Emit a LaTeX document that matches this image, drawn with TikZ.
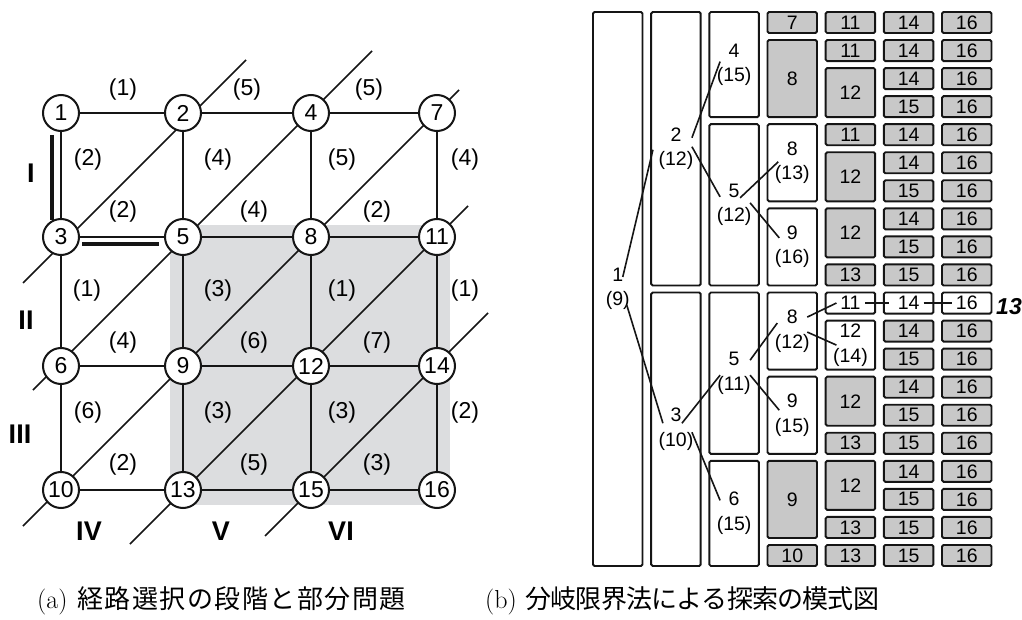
\documentclass[tikz,border=0pt]{standalone}
\usepackage{fontspec}
\newfontfamily\arialf{Liberation Sans}
\newfontfamily\jpf{Noto Sans CJK JP}
\usetikzlibrary{calc}
\definecolor{areagray}{HTML}{DCDDDF}
\definecolor{boxgray}{HTML}{C8C8C8}
\definecolor{ink}{HTML}{151515}
\pgfdeclarelayer{bg}
\pgfsetlayers{bg,main}
\newlength\capcw
\def\spreadchars#1{\ifx#1\relax\else\makebox[\capcw][c]{#1}\expandafter\spreadchars\fi}
\newcommand{\mkbox}[6]{%
  \pgfmathsetmacro\mbX{617.75+58.17*#2}%
  \pgfmathsetmacro\mbH{28.05*(#4-#3+1)-7}%
  \pgfmathsetmacro\mbY{12+28.05*#3+\mbH/2}%
  \node[#5, minimum height=\mbH pt] (#1) at (\mbX,\mbY) {#6};%
}
\tikzset{
  cnode/.style={circle, draw=ink, line width=2pt, fill=white, minimum size=36pt, inner sep=0pt, font=\arialf\fontsize{23}{26}\selectfont},
  gedge/.style={draw=ink, line width=2.1pt},
  diagl/.style={draw=ink, line width=1.6pt},
  thickbar/.style={draw=ink, line width=4pt},
  elab/.style={font=\arialf\fontsize{23}{26}\selectfont, inner sep=0pt},
  stagelab/.style={font=\arialf\bfseries\fontsize{27}{30}\selectfont, inner sep=0pt},
  wbox/.style={draw=ink, line width=1.9pt, fill=white, rounded corners=1.5pt, minimum width=49.5pt, inner sep=0pt, align=center, font=\arialf\fontsize{19.5}{24.5}\selectfont},
  gbox/.style={wbox, fill=boxgray},
  tline/.style={draw=ink, line width=1.6pt},
  caplab/.style={anchor=base west, inner sep=0pt, font=\fontsize{26}{30}\selectfont},
}
\begin{document}
\begin{tikzpicture}[x=1pt,y=-1pt]
\useasboundingbox (0,0) rectangle (1022,620);
% ---------- (a) grid nodes ----------
\node[cnode] (c1) at (61,113) {1};
\node[cnode] (c2) at (183,113) {2};
\node[cnode] (c4) at (311,113) {4};
\node[cnode] (c7) at (437,113) {7};
\node[cnode] (c3) at (61,237) {3};
\node[cnode] (c5) at (183,237) {5};
\node[cnode] (c8) at (311,237) {8};
\node[cnode] (c11) at (437,237) {11};
\node[cnode] (c6) at (61,366) {6};
\node[cnode] (c9) at (183,366) {9};
\node[cnode] (c12) at (311,366) {12};
\node[cnode] (c14) at (437,366) {14};
\node[cnode] (c10) at (61,490) {10};
\node[cnode] (c13) at (183,490) {13};
\node[cnode] (c15) at (311,490) {15};
\node[cnode] (c16) at (437,490) {16};
\begin{pgfonlayer}{bg}
  \fill[areagray] (170,225) rectangle (450,505);
  \coordinate (d1a) at (23,283);  \coordinate (d1b) at (246,60);
  \coordinate (d2a) at (33,390);  \coordinate (d2b) at (372,51);
  \coordinate (d3a) at (23,526);  \coordinate (d3b) at (459,90);
  \coordinate (d4a) at (130,544); \coordinate (d4b) at (468,206);
  \coordinate (d5a) at (265,536); \coordinate (d5b) at (488,313);
  \draw[diagl] (d1a) -- (d1b);
  \draw[diagl] (d2a) -- (d2b);
  \draw[diagl] (d3a) -- (d3b);
  \draw[diagl] (d4a) -- (d4b);
  \draw[diagl] (d5a) -- (d5b);
  \draw[gedge] (c1) -- (c2); \draw[gedge] (c2) -- (c4); \draw[gedge] (c4) -- (c7);
  \draw[gedge] (c3) -- (c5); \draw[gedge] (c5) -- (c8); \draw[gedge] (c8) -- (c11);
  \draw[gedge] (c6) -- (c9); \draw[gedge] (c9) -- (c12); \draw[gedge] (c12) -- (c14);
  \draw[gedge] (c10) -- (c13); \draw[gedge] (c13) -- (c15); \draw[gedge] (c15) -- (c16);
  \draw[gedge] (c1) -- (c3); \draw[gedge] (c3) -- (c6); \draw[gedge] (c6) -- (c10);
  \draw[gedge] (c2) -- (c5); \draw[gedge] (c5) -- (c9); \draw[gedge] (c9) -- (c13);
  \draw[gedge] (c4) -- (c8); \draw[gedge] (c8) -- (c12); \draw[gedge] (c12) -- (c15);
  \draw[gedge] (c7) -- (c11); \draw[gedge] (c11) -- (c14); \draw[gedge] (c14) -- (c16);
\end{pgfonlayer}
\draw[thickbar] ($(c1)+(-9,22)$) -- ($(c3)+(-9,-17)$);
\draw[thickbar] ($(c3)+(21,7)$) -- ($(c5)+(-24,7)$);
% edge labels
\node[elab] (e1) at (123,90) {(1)};
\node[elab] (e2) at (247,90) {(5)};
\node[elab] (e3) at (369,90) {(5)};
\node[elab] (e4) at (88,160) {(2)};
\node[elab] (e5) at (218,160) {(4)};
\node[elab] (e6) at (342,160) {(5)};
\node[elab] (e7) at (465,160) {(4)};
\node[elab] (e8) at (123,212) {(2)};
\node[elab] (e9) at (254,212) {(4)};
\node[elab] (e10) at (377,212) {(2)};
\node[elab] (e11) at (87,291) {(1)};
\node[elab] (e12) at (218,291) {(3)};
\node[elab] (e13) at (342,291) {(1)};
\node[elab] (e14) at (465,291) {(1)};
\node[elab] (e15) at (123,343) {(4)};
\node[elab] (e16) at (254,343) {(6)};
\node[elab] (e17) at (377,343) {(7)};
\node[elab] (e18) at (88,413) {(6)};
\node[elab] (e19) at (218,413) {(3)};
\node[elab] (e20) at (342,413) {(3)};
\node[elab] (e21) at (465,413) {(2)};
\node[elab] (e22) at (123,465) {(2)};
\node[elab] (e23) at (254,465) {(5)};
\node[elab] (e24) at (377,465) {(3)};
% stage labels
\node[stagelab] (s1) at (31,173) {I};
\node[stagelab] (s2) at (26,320) {II};
\node[stagelab] (s3) at (20,434) {III};
\node[stagelab] (s4) at (89,531) {IV};
\node[stagelab] (s5) at (221,531) {V};
\node[stagelab] (s6) at (341,531) {VI};
% ---------- (b) boxes ----------
\mkbox{T1}{0}{0}{19}{wbox}{1\\(9)}
\mkbox{T2}{1}{0}{9}{wbox}{2\\(12)}
\mkbox{T3}{1}{10}{19}{wbox}{3\\(10)}
\mkbox{T4}{2}{0}{3}{wbox}{4\\(15)}
\mkbox{T5a}{2}{4}{9}{wbox}{5\\(12)}
\mkbox{T5b}{2}{10}{15}{wbox}{5\\(11)}
\mkbox{T6}{2}{16}{19}{wbox}{6\\(15)}
\mkbox{G7}{3}{0}{0}{gbox}{7}
\mkbox{G8}{3}{1}{3}{gbox}{8}
\mkbox{T8a}{3}{4}{6}{wbox}{8\\(13)}
\mkbox{T9a}{3}{7}{9}{wbox}{9\\(16)}
\mkbox{T8b}{3}{10}{12}{wbox}{8\\(12)}
\mkbox{T9b}{3}{13}{15}{wbox}{9\\(15)}
\mkbox{G9}{3}{16}{18}{gbox}{9}
\mkbox{G10}{3}{19}{19}{gbox}{10}
\mkbox{Ea}{4}{0}{0}{gbox}{11}
\mkbox{Eb}{4}{1}{1}{gbox}{11}
\mkbox{Ec}{4}{2}{3}{gbox}{12}
\mkbox{Ed}{4}{4}{4}{gbox}{11}
\mkbox{Ee}{4}{5}{6}{gbox}{12}
\mkbox{Ef}{4}{7}{8}{gbox}{12}
\mkbox{Eg}{4}{9}{9}{gbox}{13}
\mkbox{T11}{4}{10}{10}{wbox}{11}
\mkbox{T12}{4}{11}{12}{wbox}{12\\(14)}
\mkbox{Eh}{4}{13}{14}{gbox}{12}
\mkbox{Ei}{4}{15}{15}{gbox}{13}
\mkbox{Ej}{4}{16}{17}{gbox}{12}
\mkbox{Ek}{4}{18}{18}{gbox}{13}
\mkbox{El}{4}{19}{19}{gbox}{13}
\foreach \r/\t in {0/14,1/14,2/14,3/15,4/14,5/14,6/15,7/14,8/15,9/15,11/14,12/15,13/14,14/15,15/15,16/14,17/15,18/15,19/15} {\mkbox{F\r}{5}{\r}{\r}{gbox}{\t}}
\mkbox{T14}{5}{10}{10}{wbox}{14}
\foreach \r in {0,1,2,3,4,5,6,7,8,9,11,12,13,14,15,16,17,18,19} {\mkbox{S\r}{6}{\r}{\r}{gbox}{16}}
\mkbox{T16}{6}{10}{10}{wbox}{16}
% tree lines
\draw[tline] ($(T1)+(5,-12)$) -- ($(T2)+(-23,1)$);
\draw[tline] ($(T1)+(9,16)$) -- ($(T3)+(-13,-6)$);
\draw[tline] ($(T2)+(16,-11)$) -- ($(T4)+(-14,-3)$);
\draw[tline] ($(T2)+(16,-2)$) -- ($(T5a)+(-14,-8)$);
\draw[tline] ($(T3)+(6,-6)$) -- ($(T5b)+(-14,2)$);
\draw[tline] ($(T3)+(16,3)$) -- ($(T6)+(-14,-13)$);
\draw[tline] ($(T5a)+(6,-7)$) -- ($(T8a)+(-14,-1)$);
\draw[tline] ($(T5a)+(16,-2)$) -- ($(T9a)+(-13,-9)$);
\draw[tline] ($(T5b)+(16,-13)$) -- ($(T8b)+(-15,-8)$);
\draw[tline] ($(T5b)+(16,2)$) -- ($(T9b)+(-13,-5)$);
\draw[tline] ($(T8b)+(15,-14)$) -- ($(T11)+(-14,0)$);
\draw[tline] ($(T8b)+(15,1)$) -- ($(T12)+(-14,0)$);
\draw[tline] ($(T11)+(15,0)$) -- ($(T14)+(-20,0)$);
\draw[tline] ($(T14)+(15,0)$) -- ($(T16)+(-15,0)$);
\node[font=\arialf\bfseries\itshape\fontsize{23}{26}\selectfont, inner sep=0pt] (lab13) at (1009,307) {13};
% captions
\node[caplab] (capa) at (37,608) {(a)\hspace{9pt}{\jpf\setlength\capcw{27.5pt}\spreadchars 経路選択の段階と部分問題\relax}};
\node[caplab] (capb) at (485,608) {(b)\hspace{9pt}{\jpf\setlength\capcw{25.2pt}\spreadchars 分岐限界法による探索の模式図\relax}};
\end{tikzpicture}
\end{document}
